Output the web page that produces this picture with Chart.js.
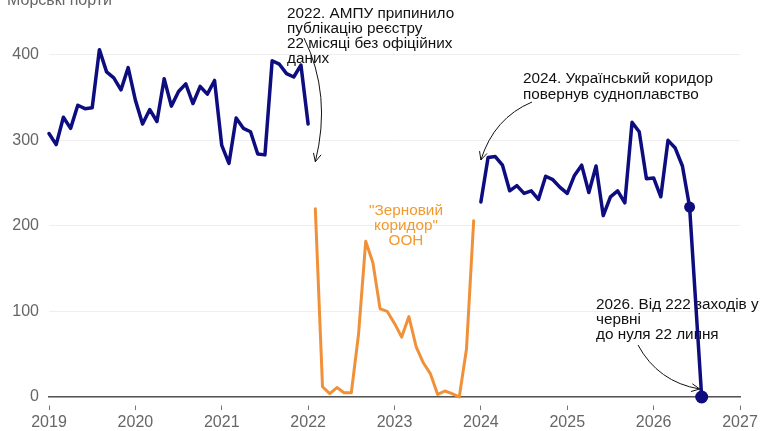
<!DOCTYPE html>
<html>
<head>
<meta charset="utf-8">
<script src="https://cdn.jsdelivr.net/npm/chart.js@4.4.0/dist/chart.umd.min.js"></script>
<style>
  html, body { margin: 0; padding: 0; background: #fff; }
</style>
</head>
<body>
<canvas id="myChart" width="770" height="431"></canvas>
<script>
// x ticks (years) and y ticks
const yearTicks = [2019, 2020, 2021, 2022, 2023, 2024, 2025, 2026, 2027]
const valueTicks = [0, 100, 200, 300, 400]

// monthly ship calls, Jan 2019 - Jan 2022
const portsBefore = [308, 295, 327, 314, 341, 337, 338, 406, 380, 373, 359, 385,
  347, 319, 336, 322, 372, 340, 357, 366, 343, 363, 354, 370,
  294, 273, 326, 314, 310, 284, 283, 393, 389, 378, 374, 388,
  319]
// UN grain corridor, Feb 2022 - Dec 2023
const grainCorridor = [220, 12, 4, 11, 5, 5, 73, 182, 157, 103, 100,
  86, 70, 94, 59, 40, 27, 3, 7, 4, 0, 56, 206]
// Ukrainian corridor, Jan 2024 - Jun 2026
const portsAfter = [228, 280, 281, 271, 241, 247, 238, 241, 231, 258, 254, 245,
  238, 259, 271, 239, 270, 212, 234, 241, 227, 321, 310, 255,
  256, 234, 300, 291, 270, 222]
// 22 July 2026
const lastDay = { year: 2026, month: 6, day: 22, value: 0 }

const axisTitle = 'Морські порти'
const note2022 = ['2022. АМПУ припинило', 'публікацію реєстру', '22 місяці без офіційних', 'даних']
const note2024 = ['2024. Український коридор', 'повернув судноплавство']
const note2026 = ['2026. Від 222 заходів у', 'червні', 'до нуля 22 липня']
const noteGrain = ['"Зерновий', 'коридор"', 'ООН']

const FONT = '"Liberation Sans", Arial, sans-serif'
const BLUE = '#0d0d80'
const ORANGE = '#f0913a'

const toPoints = (values, year, month) =>
  values.map((v, i) => ({ x: year + (month + i) / 12, y: v }))

const afterPoints = toPoints(portsAfter, 2024, 0)
afterPoints.push({ x: lastDay.year + (lastDay.month + (lastDay.day - 1) / 31) / 12, y: lastDay.value })
const afterRadius = afterPoints.map((p, i) => i === afterPoints.length - 1 ? 6.5 : (i === afterPoints.length - 2 ? 5.5 : 0))

function arrow(ctx, x0, y0, cx, cy, x1, y1) {
  ctx.beginPath()
  ctx.moveTo(x0, y0)
  ctx.quadraticCurveTo(cx, cy, x1, y1)
  ctx.stroke()
  const a = Math.atan2(y1 - cy, x1 - cx)
  const len = 9
  ctx.beginPath()
  ctx.moveTo(x1 - len * Math.cos(a - 0.45), y1 - len * Math.sin(a - 0.45))
  ctx.lineTo(x1, y1)
  ctx.lineTo(x1 - len * Math.cos(a + 0.45), y1 - len * Math.sin(a + 0.45))
  ctx.stroke()
}

const notesPlugin = {
  id: 'notes',
  afterDraw(chart) {
    const { ctx, scales: { x, y } } = chart
    ctx.save()
    ctx.fillStyle = '#666'
    ctx.font = '16px ' + FONT
    ctx.textBaseline = 'alphabetic'
    ctx.fillText(axisTitle, 7, 5)

    ctx.fillStyle = '#111'
    ctx.font = '15.3px ' + FONT
    note2022.forEach((t, i) => ctx.fillText(t, 287, 18 + i * 15))
    note2024.forEach((t, i) => ctx.fillText(t, 523, 83 + i * 15.5))
    note2026.forEach((t, i) => ctx.fillText(t, 596, 309 + i * 15))

    ctx.fillStyle = '#f29a2e'
    ctx.textAlign = 'center'
    noteGrain.forEach((t, i) => ctx.fillText(t, 406, 215 + i * 15))

    ctx.strokeStyle = '#111'
    ctx.lineWidth = 1
    arrow(ctx, 304, 38, 332, 95, x.getPixelForValue(2022 + 1 / 12), y.getPixelForValue(275))
    arrow(ctx, 532, 102, 494, 118, x.getPixelForValue(2024), y.getPixelForValue(277))
    const last = afterPoints[afterPoints.length - 1]
    arrow(ctx, 638, 345, 658, 382, x.getPixelForValue(last.x) - 2, y.getPixelForValue(last.y) - 8)
    ctx.restore()
  }
}

const ctx = document.getElementById('myChart')
new Chart(ctx, {
  type: 'line',
  data: {
    datasets: [
      { data: toPoints(portsBefore, 2019, 0), borderColor: BLUE, borderWidth: 3.5, pointRadius: 0, clip: false },
      { data: toPoints(grainCorridor, 2022, 1), borderColor: ORANGE, borderWidth: 3, pointRadius: 0, clip: false },
      { data: afterPoints, borderColor: BLUE, backgroundColor: BLUE, borderWidth: 3.5,
        pointRadius: afterRadius, pointBorderWidth: 0, clip: false }
    ]
  },
  options: {
    responsive: false,
    animation: false,
    devicePixelRatio: 1,
    layout: { padding: { top: 12, right: 30, left: 0, bottom: 0 } },
    plugins: { legend: { display: false }, tooltip: { enabled: false } },
    elements: { line: { tension: 0, borderJoinStyle: 'round', borderCapStyle: 'round' } },
    scales: {
      x: {
        type: 'linear',
        min: yearTicks[0],
        max: yearTicks[yearTicks.length - 1],
        afterFit: s => { s.height = 34 },
        afterBuildTicks: s => { s.ticks = yearTicks.map(v => ({ value: v })) },
        grid: {
          drawOnChartArea: false,
          tickLength: 13,
          tickBorderDash: [0, 8, 5, 100],
          tickColor: '#777',
          tickWidth: 1
        },
        border: { color: '#555', width: 1.5 },
        ticks: {
          autoSkip: false, maxRotation: 0, padding: 3,
          color: '#666', font: { family: FONT, size: 16 },
          callback: v => String(v)
        }
      },
      y: {
        min: 0,
        max: 450,
        afterFit: s => { s.width = 49; s.paddingTop = 0; s.paddingBottom = 0 },
        afterBuildTicks: s => { s.ticks = valueTicks.map(v => ({ value: v })) },
        grid: { color: '#eee', drawTicks: false },
        border: { display: false },
        ticks: { padding: 10, color: '#666', font: { family: FONT, size: 16 } }
      }
    }
  },
  plugins: [notesPlugin]
})
</script>
</body>
</html>
